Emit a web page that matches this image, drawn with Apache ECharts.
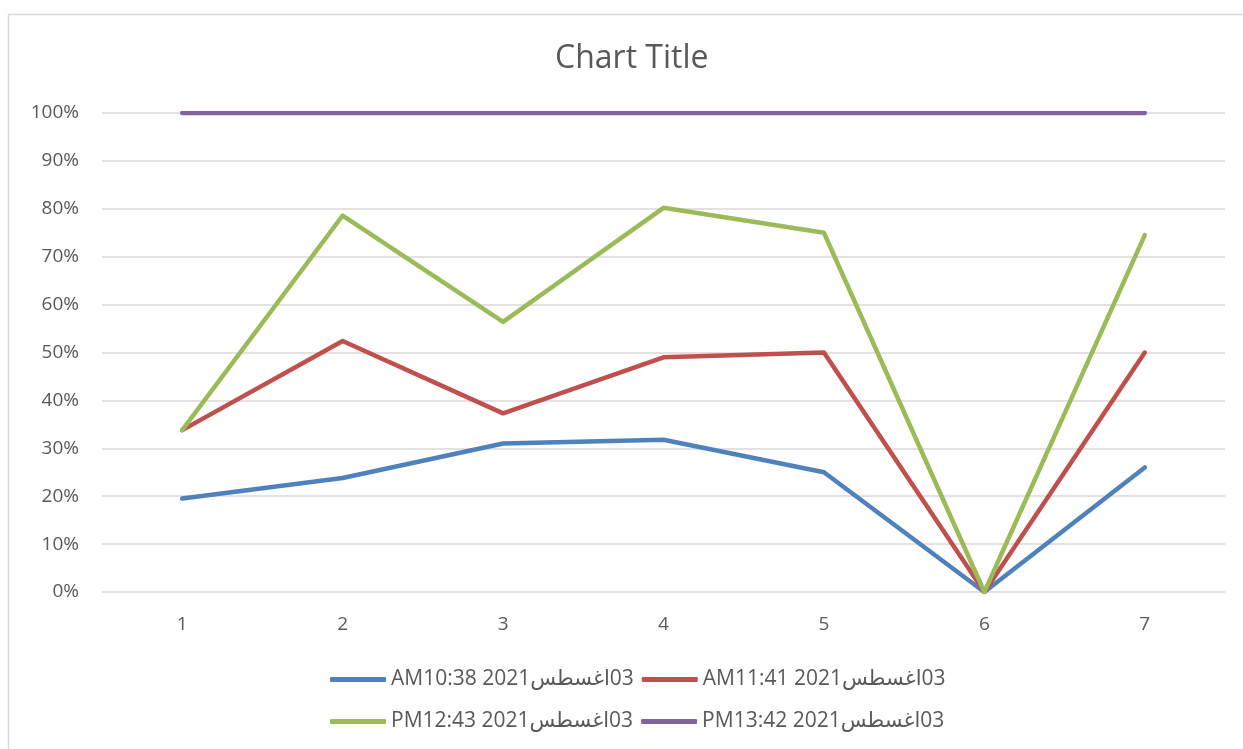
<!DOCTYPE html>
<html>
<head>
<meta charset="utf-8">
<script src="https://cdn.jsdelivr.net/npm/echarts@6/dist/echarts.min.js"></script>
<style>
  html, body { margin: 0; padding: 0; background: #ffffff; }
  #chart { width: 1243px; height: 749px; }
</style>
</head>
<body>
<div id="chart"></div>
<script>
// Category labels along the x axis
const categories = ['1', '2', '3', '4', '5', '6', '7'];

// Series names (date / time stamps); LRM keeps the day number after the month name
const seriesNames = [
  'AM10:38 2021اغسطس\u200E03',
  'AM11:41 2021اغسطس\u200E03',
  'PM12:43 2021اغسطس\u200E03',
  'PM13:42 2021اغسطس\u200E03'
];

// Values as fractions (0..1)
const seriesAM1038 = [0.195, 0.238, 0.310, 0.318, 0.250, 0, 0.260];
const seriesAM1141 = [0.338, 0.524, 0.373, 0.490, 0.500, 0, 0.500];
const seriesPM1243 = [0.338, 0.786, 0.564, 0.802, 0.750, 0, 0.745];
const seriesPM1342 = [1, 1, 1, 1, 1, 1, 1];

const colors = ['#4F81BD', '#C0504D', '#9BBB59', '#8064A2'];
const textColor = '#595959';
const fontFamily = '"Open Sans", "DejaVu Sans", sans-serif';

const allValues = [seriesAM1038, seriesAM1141, seriesPM1243, seriesPM1342];

const chart = echarts.init(document.getElementById('chart'), null, { renderer: 'canvas' });

function legendRow(names, top) {
  return {
    data: names,
    top: top,
    left: 325,
    orient: 'horizontal',
    icon: 'roundRect',
    itemWidth: 56,
    itemHeight: 5,
    itemGap: 8,
    textStyle: { color: textColor, fontSize: 21, fontFamily: fontFamily },
    selectedMode: false
  };
}

chart.setOption({
  animation: false,
  backgroundColor: '#ffffff',
  color: colors,
  title: {
    text: 'Chart Title',
    left: 550,
    top: 38,
    textStyle: { color: textColor, fontSize: 32, fontWeight: 'normal', fontFamily: fontFamily }
  },
  graphic: [{
    type: 'rect',
    shape: { x: 8.5, y: 14.5, width: 1300, height: 800 },
    style: { fill: 'none', stroke: '#d9d9d9', lineWidth: 1.5 },
    silent: true,
    z: -1
  }],
  legend: [
    legendRow([seriesNames[0], seriesNames[1]], 664),
    legendRow([seriesNames[2], seriesNames[3]], 706)
  ],
  grid: { left: 102, right: 18, top: 113, bottom: 157, containLabel: false },
  xAxis: {
    type: 'category',
    data: categories,
    boundaryGap: true,
    axisLine: { show: false },
    axisTick: { show: false },
    axisLabel: { color: textColor, fontSize: 19, fontFamily: fontFamily, margin: 23 },
    splitLine: { show: false }
  },
  yAxis: {
    type: 'value',
    min: 0,
    max: 1,
    interval: 0.1,
    axisLine: { show: false },
    axisTick: { show: false },
    axisLabel: {
      color: textColor, fontSize: 19, fontFamily: fontFamily, margin: 23,
      formatter: v => Math.round(v * 100) + '%'
    },
    splitLine: { lineStyle: { color: '#d9d9d9', width: 1.5 } }
  },
  series: seriesNames.map((name, i) => ({
    name: name,
    type: 'line',
    data: allValues[i],
    symbol: 'none',
    lineStyle: { width: 4.5, color: colors[i], cap: 'round', join: 'round' },
    itemStyle: { color: colors[i] },
    emphasis: { disabled: true }
  }))
});
</script>
</body>
</html>
